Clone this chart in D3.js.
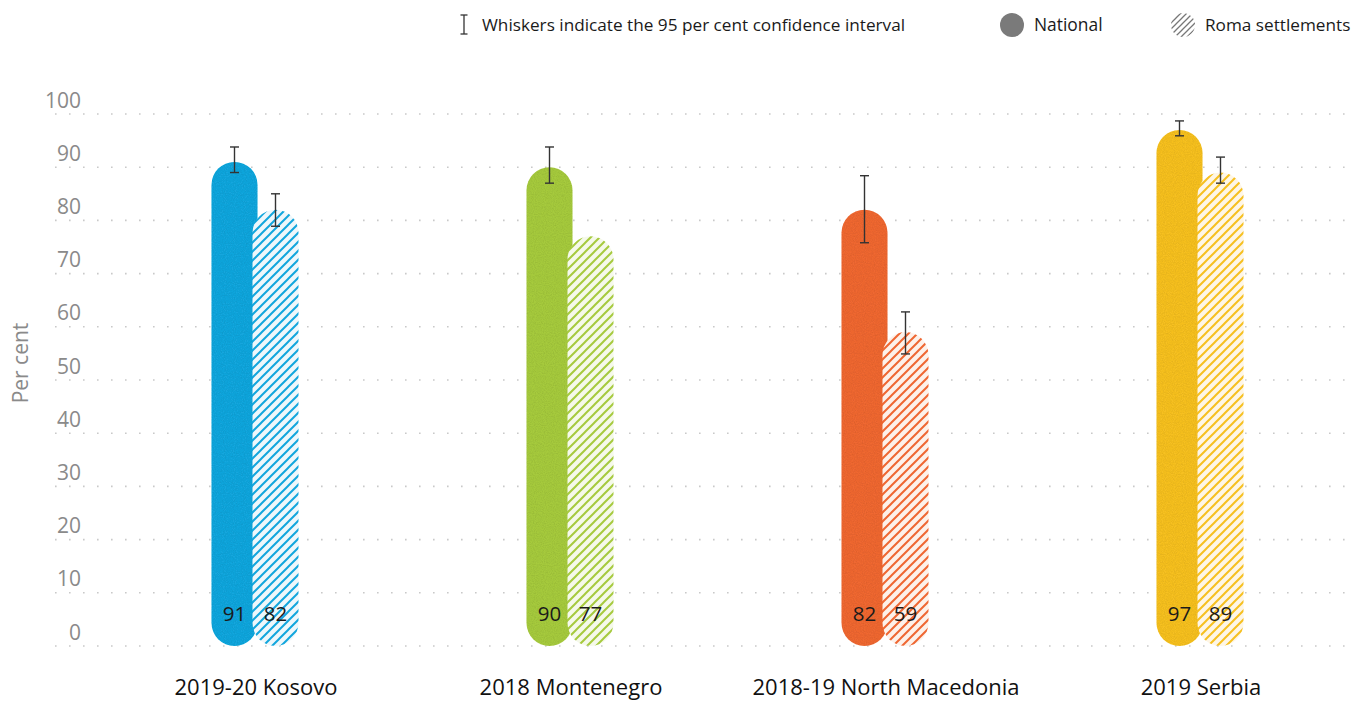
<!DOCTYPE html>
<html><head><meta charset="utf-8">
<script src="https://cdn.jsdelivr.net/npm/d3@7"></script>
<style>
html,body{margin:0;padding:0;background:#fff;}
svg{display:block;}
text{font-family:"Open Sans","Noto Sans",sans-serif;}
</style></head>
<body><svg id="chart" width="1352" height="702"></svg>
<script>
const categories = ["2019-20 Kosovo","2018 Montenegro","2018-19 North Macedonia","2019 Serbia"];
const nationalValues = [91, 90, 82, 97];
const romaValues = [82, 77, 59, 89];
const nationalLow = [89.0, 87.0, 75.8, 95.9];
const nationalHigh = [93.8, 93.8, 88.4, 98.7];
const romaLow = [78.9, null, 54.9, 87.0];
const romaHigh = [85.0, null, 62.8, 91.9];
const colors = ["#12a6dd", "#a6ca3e", "#ef6732", "#f6c020"];
const tints = ["#eef7fb", "#f5f9ea", "#fdf1ea", "#fef6e6"];
const yTicks = [0,10,20,30,40,50,60,70,80,90,100];

const svg = d3.select("#chart");
const defs = svg.append("defs");

const y = d3.scaleLinear().domain([0,100]).range([646,114]);
const x = d3.scaleBand().domain(categories).range([97.5,1357.5]);
const barW = 46, off = 20.5;

// grain filter
const f = defs.append("filter").attr("id","grain").attr("x",0).attr("y",0).attr("width",1).attr("height",1);
f.append("feTurbulence").attr("type","fractalNoise").attr("baseFrequency",0.9).attr("numOctaves",2).attr("seed",3).attr("result","n");
f.append("feColorMatrix").attr("in","n").attr("type","matrix")
 .attr("values","0 0 0 0 0  0 0 0 0 0  0 0 0 0 0  0 0 0 0.3 -0.1").attr("result","na");
f.append("feComposite").attr("in","na").attr("in2","SourceGraphic").attr("operator","in").attr("result","nm");
const fm = f.append("feMerge"); fm.append("feMergeNode").attr("in","SourceGraphic"); fm.append("feMergeNode").attr("in","nm");

// hatch patterns
colors.forEach((c,i)=>{
  const p = defs.append("pattern").attr("id","hatch"+i).attr("patternUnits","userSpaceOnUse").attr("width",9).attr("height",9);
  p.append("rect").attr("width",9).attr("height",9).attr("fill",tints[i]);
  p.append("path").attr("d","M-1,1 l2,-2 M0,9 l9,-9 M8,10 l2,-2").attr("stroke",c).attr("stroke-width",2);
});
const pg = defs.append("pattern").attr("id","hatchGrey").attr("patternUnits","userSpaceOnUse").attr("width",6).attr("height",6);
pg.append("path").attr("d","M-1,1 l2,-2 M0,6 l6,-6 M5,7 l2,-2").attr("stroke","#777").attr("stroke-width",1.3);

// grid
const grid = svg.append("g");
yTicks.forEach(t=>{
  grid.append("line").attr("x1",55).attr("x2",1352).attr("y1",y(t)).attr("y2",y(t))
   .attr("stroke","#c9c9c9").attr("stroke-width",1.6).attr("stroke-dasharray","1.6 12.4");
  grid.append("text").attr("x",81).attr("y",y(t)-6.5).attr("text-anchor","end")
   .attr("font-size",21).attr("fill","#8a8a8a").text(t);
});
svg.append("text").attr("transform","translate(28,363) rotate(-90)").attr("text-anchor","middle")
  .attr("font-size",21).attr("fill","#8a8a8a").text("Per cent");

// bars
const g = svg.append("g");
categories.forEach((c,i)=>{
  const cx = x(c) + x.bandwidth()/2;
  g.append("rect").attr("x",cx-off-barW/2).attr("y",y(nationalValues[i])).attr("width",barW)
   .attr("height",y(0)-y(nationalValues[i])).attr("rx",barW/2).attr("fill",colors[i]).attr("filter","url(#grain)");
  g.append("rect").attr("x",cx+off-barW/2).attr("y",y(romaValues[i])).attr("width",barW)
   .attr("height",y(0)-y(romaValues[i])).attr("rx",barW/2).attr("fill","url(#hatch"+i+")");
  // whiskers
  const wh = (px, lo, hi)=>{
    if(lo==null) return;
    g.append("line").attr("x1",px).attr("x2",px).attr("y1",y(hi)).attr("y2",y(lo)).attr("stroke","#333").attr("stroke-width",1.4);
    [lo,hi].forEach(v=>g.append("line").attr("x1",px-4.5).attr("x2",px+4.5).attr("y1",y(v)).attr("y2",y(v)).attr("stroke","#333").attr("stroke-width",1.4));
  };
  wh(cx-off, nationalLow[i], nationalHigh[i]);
  wh(cx+off, romaLow[i], romaHigh[i]);
  // labels
  g.append("text").attr("x",cx-off).attr("y",621).attr("text-anchor","middle").attr("font-size",20.5).attr("fill","#1a1a1a").text(nationalValues[i]);
  g.append("text").attr("x",cx+off).attr("y",621).attr("text-anchor","middle").attr("font-size",20.5).attr("fill","#1a1a1a").text(romaValues[i]);
  svg.append("text").attr("x",cx+1).attr("y",695).attr("text-anchor","middle").attr("font-size",22).attr("fill","#111").text(c);
});

// legend
const lg = svg.append("g");
lg.append("line").attr("x1",464).attr("x2",464).attr("y1",15).attr("y2",34).attr("stroke","#333").attr("stroke-width",1.3);
[15,34].forEach(v=>lg.append("line").attr("x1",460.5).attr("x2",467.5).attr("y1",v).attr("y2",v).attr("stroke","#333").attr("stroke-width",1.3));
lg.append("text").attr("x",482).attr("y",31).attr("font-size",17.2).attr("fill","#1a1a1a").text("Whiskers indicate the 95 per cent confidence interval");
lg.append("circle").attr("cx",1012).attr("cy",25).attr("r",12).attr("fill","#7a7a7a");
lg.append("text").attr("x",1034).attr("y",31).attr("font-size",17.4).attr("fill","#1a1a1a").text("National");
lg.append("circle").attr("cx",1183).attr("cy",25).attr("r",12).attr("fill","url(#hatchGrey)");
lg.append("text").attr("x",1205).attr("y",31).attr("font-size",17.2).attr("fill","#1a1a1a").text("Roma settlements");
</script></body></html>
